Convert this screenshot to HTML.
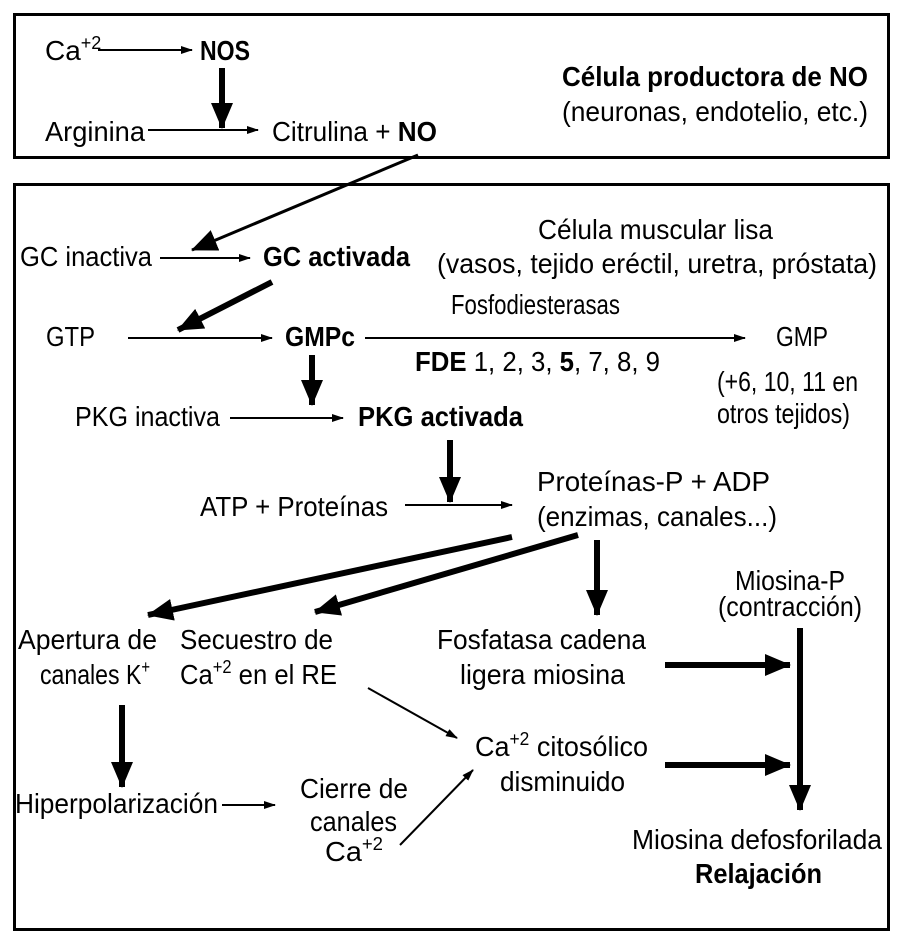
<!DOCTYPE html>
<html><head><meta charset="utf-8"><style>html,body{margin:0;padding:0;background:#fff}svg{display:block}text{font-family:"Liberation Sans Narrow","Liberation Sans",sans-serif;font-size:28px;fill:#000}.b{font-weight:bold}</style></head><body>
<svg width="904" height="944" viewBox="0 0 904 944" xmlns="http://www.w3.org/2000/svg">
<defs>
<marker id="t" markerWidth="12" markerHeight="8" refX="11" refY="4" orient="auto" markerUnits="userSpaceOnUse"><path d="M0,0 L12,4 L0,8 z"/></marker>
<marker id="k" markerWidth="26" markerHeight="22" refX="25" refY="11" orient="auto" markerUnits="userSpaceOnUse"><path d="M0,0 L26,11 L0,22 z"/></marker>
</defs>
<rect x="14.5" y="14.5" width="874" height="143" fill="none" stroke="#000" stroke-width="3"/>
<rect x="14.5" y="184.5" width="874" height="745" fill="none" stroke="#000" stroke-width="3"/>
<g stroke="#000" fill="none">
<line x1="98" y1="50" x2="192" y2="50" stroke-width="2" marker-end="url(#t)"/>
<line x1="222" y1="68" x2="222" y2="128" stroke-width="6" marker-end="url(#k)"/>
<line x1="148" y1="130" x2="258" y2="130" stroke-width="2" marker-end="url(#t)"/>
<line x1="418" y1="155" x2="192" y2="250" stroke-width="3" marker-end="url(#k)"/>
<line x1="160" y1="258" x2="250" y2="258" stroke-width="2" marker-end="url(#t)"/>
<line x1="272" y1="282" x2="178" y2="330" stroke-width="6" marker-end="url(#k)"/>
<line x1="128" y1="338" x2="272" y2="338" stroke-width="2" marker-end="url(#t)"/>
<line x1="365" y1="338" x2="745" y2="338" stroke-width="2" marker-end="url(#t)"/>
<line x1="312" y1="355" x2="312" y2="405" stroke-width="6" marker-end="url(#k)"/>
<line x1="230" y1="418" x2="343" y2="418" stroke-width="2" marker-end="url(#t)"/>
<line x1="450" y1="440" x2="450" y2="502" stroke-width="6" marker-end="url(#k)"/>
<line x1="405" y1="505" x2="512" y2="505" stroke-width="2" marker-end="url(#t)"/>
<line x1="512" y1="537" x2="148" y2="615" stroke-width="6" marker-end="url(#k)"/>
<line x1="578" y1="535" x2="315" y2="612" stroke-width="6" marker-end="url(#k)"/>
<line x1="597" y1="540" x2="597" y2="615" stroke-width="6" marker-end="url(#k)"/>
<line x1="665" y1="665" x2="790" y2="665" stroke-width="6" marker-end="url(#k)"/>
<line x1="800" y1="628" x2="800" y2="810" stroke-width="6" marker-end="url(#k)"/>
<line x1="122" y1="705" x2="122" y2="787" stroke-width="6" marker-end="url(#k)"/>
<line x1="368" y1="688" x2="457" y2="738" stroke-width="2" marker-end="url(#t)"/>
<line x1="665" y1="765" x2="790" y2="765" stroke-width="6" marker-end="url(#k)"/>
<line x1="222" y1="805" x2="275" y2="805" stroke-width="2" marker-end="url(#t)"/>
<line x1="400" y1="845" x2="473" y2="770" stroke-width="2" marker-end="url(#t)"/>
</g>
<text x="45" y="60">Ca<tspan font-size="18" dy="-11">+2</tspan></text>
<text x="200" y="60" class="b" textLength="50" lengthAdjust="spacingAndGlyphs">NOS</text>
<text x="45" y="141" textLength="100" lengthAdjust="spacingAndGlyphs">Arginina</text>
<text x="272" y="141" textLength="165" lengthAdjust="spacingAndGlyphs">Citrulina + <tspan class="b">NO</tspan></text>
<text x="562" y="86" class="b" textLength="306" lengthAdjust="spacingAndGlyphs">Célula productora de NO</text>
<text x="562" y="121" textLength="306" lengthAdjust="spacingAndGlyphs">(neuronas, endotelio, etc.)</text>
<text x="20" y="266" textLength="132" lengthAdjust="spacingAndGlyphs">GC inactiva</text>
<text x="263" y="266" class="b" textLength="147" lengthAdjust="spacingAndGlyphs">GC activada</text>
<text x="538" y="239" textLength="235" lengthAdjust="spacingAndGlyphs">Célula muscular lisa</text>
<text x="437" y="273" textLength="440" lengthAdjust="spacingAndGlyphs">(vasos, tejido eréctil, uretra, próstata)</text>
<text x="46" y="346" textLength="49" lengthAdjust="spacingAndGlyphs">GTP</text>
<text x="285" y="346" class="b" textLength="70" lengthAdjust="spacingAndGlyphs">GMPc</text>
<text x="451" y="314" textLength="169" lengthAdjust="spacingAndGlyphs">Fosfodiesterasas</text>
<text x="415" y="371" textLength="245" lengthAdjust="spacingAndGlyphs"><tspan class="b">FDE</tspan> 1, 2, 3, <tspan class="b">5</tspan>, 7, 8, 9</text>
<text x="776" y="346" textLength="52" lengthAdjust="spacingAndGlyphs">GMP</text>
<text x="717" y="391" textLength="141" lengthAdjust="spacingAndGlyphs">(+6, 10, 11 en</text>
<text x="717" y="423" textLength="133" lengthAdjust="spacingAndGlyphs">otros tejidos)</text>
<text x="75" y="426" textLength="145" lengthAdjust="spacingAndGlyphs">PKG inactiva</text>
<text x="358" y="426" class="b" textLength="165" lengthAdjust="spacingAndGlyphs">PKG activada</text>
<text x="200" y="516" textLength="188" lengthAdjust="spacingAndGlyphs">ATP + Proteínas</text>
<text x="537" y="491" textLength="233" lengthAdjust="spacingAndGlyphs">Proteínas-P + ADP</text>
<text x="537" y="526" textLength="240" lengthAdjust="spacingAndGlyphs">(enzimas, canales...)</text>
<text x="735" y="590" textLength="110" lengthAdjust="spacingAndGlyphs">Miosina-P</text>
<text x="718" y="616" textLength="144" lengthAdjust="spacingAndGlyphs">(contracción)</text>
<text x="18" y="649" textLength="139" lengthAdjust="spacingAndGlyphs">Apertura de</text>
<text x="40" y="684" textLength="110" lengthAdjust="spacingAndGlyphs">canales K<tspan font-size="18" dy="-11">+</tspan></text>
<text x="180" y="649" textLength="153" lengthAdjust="spacingAndGlyphs">Secuestro de</text>
<text x="180" y="684" textLength="157" lengthAdjust="spacingAndGlyphs">Ca<tspan font-size="18" dy="-11">+2</tspan><tspan dy="11"> en el RE</tspan></text>
<text x="437" y="649" textLength="209" lengthAdjust="spacingAndGlyphs">Fosfatasa cadena</text>
<text x="460" y="684" textLength="165" lengthAdjust="spacingAndGlyphs">ligera miosina</text>
<text x="475" y="756" textLength="173" lengthAdjust="spacingAndGlyphs">Ca<tspan font-size="18" dy="-11">+2</tspan><tspan dy="11"> citosólico</tspan></text>
<text x="500" y="791" textLength="125" lengthAdjust="spacingAndGlyphs">disminuido</text>
<text x="15" y="813" textLength="203" lengthAdjust="spacingAndGlyphs">Hiperpolarización</text>
<text x="300" y="798" textLength="108" lengthAdjust="spacingAndGlyphs">Cierre de</text>
<text x="310" y="831" textLength="87" lengthAdjust="spacingAndGlyphs">canales</text>
<text x="325" y="861" textLength="58" lengthAdjust="spacingAndGlyphs">Ca<tspan font-size="18" dy="-11">+2</tspan></text>
<text x="632" y="849" textLength="250" lengthAdjust="spacingAndGlyphs">Miosina defosforilada</text>
<text x="695" y="883" class="b" textLength="127" lengthAdjust="spacingAndGlyphs">Relajación</text>
</svg>
</body></html>
